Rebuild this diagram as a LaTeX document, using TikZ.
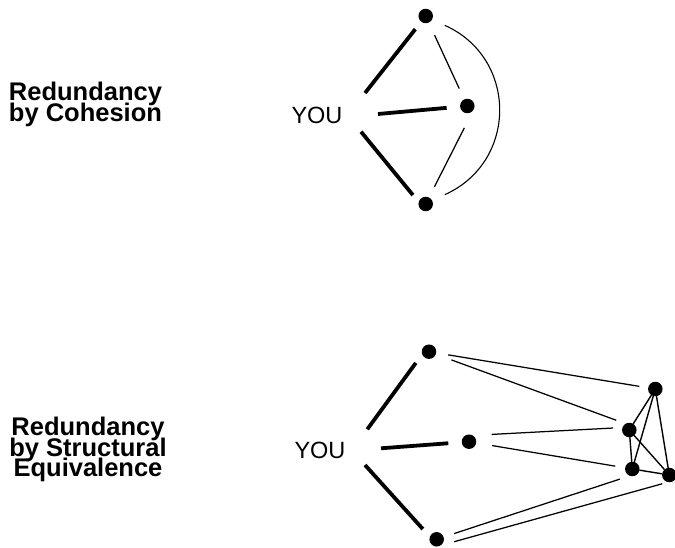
\documentclass[tikz,border=0pt]{standalone}
\usepackage{fontspec}
\setmainfont{Liberation Sans}
\newcommand\lblfont{\fontsize{25.5}{20.5}\selectfont\bfseries\lineskiplimit=-50pt\relax}
\begin{document}
\begin{tikzpicture}[x=1pt,y=-1pt,
  dot/.style={circle,fill=black,draw=none,minimum size=14.5pt,inner sep=0pt,outer sep=0pt},
  you/.style={font=\fontsize{23.5}{26}\selectfont,inner sep=0pt},
  lbl/.style={font=\lblfont,align=center,inner sep=0pt,anchor=north},
  strong/.style={line width=3.8pt},
  weak/.style={line width=1.25pt},
  tie/.style={line width=1.4pt}]
\useasboundingbox (0,0) rectangle (675,548);
% ---------- top: cohesion ----------
\node[lbl] (lab1) at (85.5,82) {Redundancy\\by Cohesion};
\node[you] (you1) at (317,115) {YOU};
\node[dot] (t1) at (425.7,16) {};
\node[dot] (t2) at (467.3,106) {};
\node[dot] (t3) at (425.7,204) {};
\coordinate (y1a) at (365,93);
\coordinate (y1b) at (378,114);
\coordinate (y1c) at (361,131.7);
\draw[strong,shorten >=9.5] (y1a) -- (t1);
\draw[strong,shorten >=13.5] (y1b) -- (t2);
\draw[strong,shorten >=9.1] (y1c) -- (t3.165);
\draw[weak,shorten <=14,shorten >=12] (t1) -- (t2);
\draw[weak,shorten <=21,shorten >=12] (t2.-26) -- (t3);
\draw[line width=1.1pt,shorten <=14,shorten >=14] (t1.-30) .. controls (518,58) and (518,162) .. (t3.30);
% ---------- bottom: structural equivalence ----------
\node[lbl] (lab2) at (88,417) {Redundancy\\by Structural\\Equivalence};
\node[you] (you2) at (320,450) {YOU};
\node[dot] (b1) at (429,351.7) {};
\node[dot] (b2) at (469,441.7) {};
\node[dot] (b3) at (436.7,539.3) {};
\node[dot] (A) at (655.3,389) {};
\node[dot] (B) at (629.3,430) {};
\node[dot] (C) at (632.3,469) {};
\node[dot] (D) at (669.3,475) {};
\coordinate (y2a) at (367.3,429.3);
\coordinate (y2b) at (381,448.3);
\coordinate (y2c) at (365,465);
\draw[strong,shorten >=10.8] (y2a) -- (b1.200);
\draw[strong,shorten >=13.5] (y2b) -- (b2);
\draw[strong,shorten >=10.5] (y2c) -- (b3.160);
\draw[weak,shorten <=12.2,shorten >=8.9] (b1) -- (A);
\draw[weak,shorten <=16.6,shorten >=10] (b1) -- (B.120);
\draw[weak,shorten <=19,shorten >=9.4] (b2.60) -- (B.160);
\draw[weak,shorten <=16.1,shorten >=10] (b2) -- (C);
\draw[weak,shorten <=11.2,shorten >=10.5] (b3) -- (C.-110);
\draw[weak,shorten <=14.5,shorten >=6] (b3.-60) -- (D.-100);
\draw[tie] (A) -- (B);
\draw[tie] (A) -- (C);
\draw[tie] (A) -- (D);
\draw[tie] (B) -- (C);
\draw[tie] (B) -- (D);
\draw[tie] (C) -- (D);
\end{tikzpicture}
\end{document}
